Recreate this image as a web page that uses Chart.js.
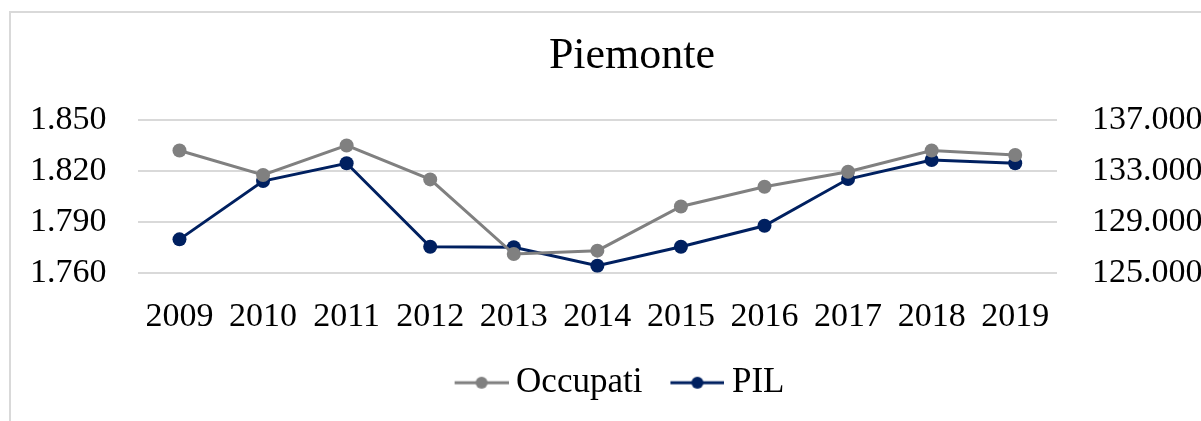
<!DOCTYPE html>
<html>
<head>
<meta charset="utf-8">
<script src="https://cdn.jsdelivr.net/npm/chart.js@4.4.0/dist/chart.umd.min.js"></script>
<style>
  html, body { margin: 0; padding: 0; background: #fff; }
  #wrap { position: relative; width: 1201px; height: 421px; }
</style>
</head>
<body>
<div id="wrap"><canvas id="chartPiemonte" width="1201" height="421"></canvas></div>
<script>
// Dati
const anni = ["2009", "2010", "2011", "2012", "2013", "2014", "2015", "2016", "2017", "2018", "2019"];
const occupati = [1832, 1817.6, 1835, 1815, 1771, 1773, 1799, 1810.7, 1819.5, 1832, 1829.4];
const pil = [127620, 132200, 133600, 127040, 127000, 125550, 127040, 128690, 132360, 133860, 133600];

const GRIGIO = "#808080";
const BLU = "#002060";
const FONT = "'Liberation Serif', 'DejaVu Serif', serif";

// separatore migliaia all'italiana
function formatta(v) {
  return Math.round(v).toString().replace(/\B(?=(\d{3})+(?!\d))/g, ".");
}

// icona legenda: linea + punto (10px vuoti a sinistra)
function iconaLegenda(colore) {
  const c = document.createElement("canvas");
  c.width = 64;
  c.height = 14;
  const ctx = c.getContext("2d");
  ctx.strokeStyle = colore;
  ctx.lineWidth = 3;
  ctx.beginPath();
  ctx.moveTo(10, 7);
  ctx.lineTo(64, 7);
  ctx.stroke();
  ctx.fillStyle = colore;
  ctx.beginPath();
  ctx.arc(37, 7, 6, 0, Math.PI * 2);
  ctx.fill();
  return c;
}

const icone = [iconaLegenda(GRIGIO), iconaLegenda(BLU)];

// cornice e titolo
const cornice = {
  id: "cornice",
  beforeDraw(chart) {
    const ctx = chart.ctx;
    ctx.save();
    ctx.strokeStyle = "#d9d9d9";
    ctx.lineWidth = 2;
    ctx.strokeRect(10, 12, 1400, 600);
    ctx.restore();
  },
  afterDraw(chart) {
    const ctx = chart.ctx;
    ctx.save();
    ctx.fillStyle = "#000";
    ctx.font = "44px " + FONT;
    ctx.textAlign = "center";
    ctx.textBaseline = "alphabetic";
    ctx.fillText("Piemonte", 632, 68);
    ctx.restore();
  }
};

new Chart(document.getElementById("chartPiemonte"), {
  type: "line",
  data: {
    labels: anni,
    datasets: [
      {
        label: "Occupati",
        data: occupati,
        yAxisID: "y",
        borderColor: GRIGIO,
        backgroundColor: GRIGIO,
        borderWidth: 3,
        pointRadius: 7,
        pointHoverRadius: 7,
        pointBackgroundColor: GRIGIO,
        pointBorderWidth: 0,
        tension: 0
      },
      {
        label: "PIL",
        data: pil,
        yAxisID: "y1",
        borderColor: BLU,
        backgroundColor: BLU,
        borderWidth: 3,
        pointRadius: 7,
        pointHoverRadius: 7,
        pointBackgroundColor: BLU,
        pointBorderWidth: 0,
        tension: 0
      }
    ]
  },
  options: {
    responsive: false,
    animation: false,
    layout: { padding: { left: 38, right: 0, top: 120, bottom: 10.8 } },
    plugins: {
      title: { display: false },
      legend: {
        position: "bottom",
        labels: {
          color: "#000",
          font: { family: FONT, size: 35 },
          usePointStyle: true,
          pointStyleWidth: 44,
          boxHeight: 14,
          padding: 28,
          generateLabels(chart) {
            const items = Chart.defaults.plugins.legend.labels.generateLabels(chart);
            items.forEach((it, i) => { it.pointStyle = icone[i]; });
            return items;
          }
        }
      },
      tooltip: { enabled: false }
    },
    scales: {
      x: {
        offset: true,
        grid: { display: false },
        border: { display: false },
        ticks: { color: "#000", font: { family: FONT, size: 34 }, padding: 16, maxRotation: 0 },
        afterFit(scale) { scale.height = 64.5; }
      },
      y: {
        position: "left",
        min: 1760,
        max: 1850,
        grid: { color: "#d9d9d9", lineWidth: 2, drawTicks: false },
        border: { display: false },
        ticks: {
          stepSize: 30,
          color: "#000",
          font: { family: FONT, size: 34 },
          mirror: true,
          padding: -107.7,
          callback: (v) => formatta(v)
        },
        afterFit(scale) { scale.width = 99.7; }
      },
      y1: {
        position: "right",
        min: 125000,
        max: 137000,
        grid: { display: false, drawTicks: false },
        border: { display: false },
        ticks: {
          stepSize: 4000,
          color: "#000",
          font: { family: FONT, size: 34 },
          padding: 35,
          callback: (v) => formatta(v)
        },
        afterFit(scale) { scale.width = 144; }
      }
    }
  },
  plugins: [cornice]
});
</script>
</body>
</html>
